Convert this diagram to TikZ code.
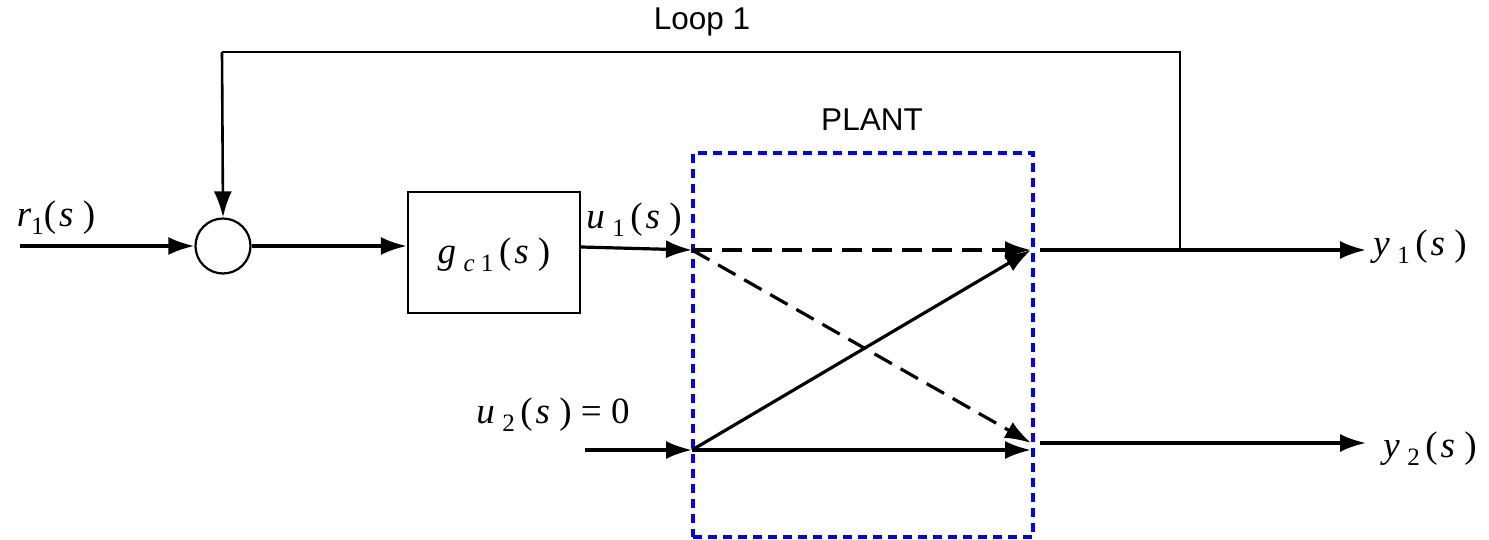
\documentclass[tikz,border=0pt]{standalone}
\usepackage{fontspec}
\setmainfont{Liberation Serif}
\newfontfamily\labelfont{Liberation Sans}
\usetikzlibrary{arrows.meta}
\newcommand{\vsub}[1]{\hspace{0.2em}\raisebox{-0.45ex}{\fontsize{25}{25}\selectfont #1}\hspace{0.15em}}
\newcommand{\ofs}{(\hspace{0.08em}\textit{s}\hspace{0.25em})}
\tikzset{
  sig/.style={line width=3.2pt,-{Latex[length=26pt,width=18pt]}},
  dsig/.style={line width=3.2pt,dash pattern=on 20pt off 10pt,-{Latex[length=26pt,width=18pt]}},
  lbl/.style={font=\fontsize{37}{37}\selectfont},
  sans/.style={font=\labelfont\fontsize{31.5}{31.5}\selectfont},
  blk/.style={draw,line width=2.2pt,minimum width=172pt,minimum height=121pt},
  sumc/.style={draw,circle,line width=2.2pt,minimum size=55pt,inner sep=0pt},
  plantbox/.style={draw=blue,line width=3.2pt,dash pattern=on 9pt off 6pt}
}
\begin{document}
\begin{tikzpicture}[x=1pt,y=-1pt]
\useasboundingbox (0,0) rectangle (1489,540);
% blocks
\node[sumc] (sum) at (223,246) {};
\node[blk] (gc) at (494,252.5) {};
\node[lbl] (gctext) at (494,255) {\textit{g}\vsub{\textit{c}\hspace{0.25em}1}\ofs};
\node[plantbox,minimum width=340pt,minimum height=384pt,inner sep=0pt] (plant) at (863,345) {};
% coordinates
\coordinate (rin) at (20,246);
\coordinate (u1in) at (692,250);
\coordinate (u2start) at (585,450);
\coordinate (u2in) at (692,450);
\coordinate (y1o) at (1031,250);
\coordinate (y2o) at (1031,443);
\coordinate (y1s) at (1040,250);
\coordinate (y2s) at (1040,443);
\coordinate (y1end) at (1366,250);
\coordinate (y2end) at (1366,443);
\coordinate (tap) at (1180,250);
\coordinate (tl) at (222,52);
\coordinate (tr) at (1180,52);
% labels
\node[lbl] (rl) at (56,218) {\textit{r}\raisebox{-0.45ex}{\fontsize{25}{25}\selectfont 1}\ofs};
\node[lbl] (ul) at (634,220) {\textit{u}\vsub{1}\ofs};
\node[lbl] (u2l) at (553,415) {\textit{u}\vsub{2}\ofs\ = 0};
\node[lbl] (y1l) at (1420,247) {\textit{y}\vsub{1}\ofs};
\node[lbl] (y2l) at (1430,449) {\textit{y}\vsub{2}\ofs};
\node[sans] (loop) at (702,22) {Loop 1};
\node[sans] (plantl) at (872,120) {PLANT};
% connectors
\draw[sig] (rin) -- (sum.west);
\draw[sig] (sum.east) -- (gc.west |- sum.east);
\draw[sig] (gc.east |- 0,247) -- (u1in);
\draw[sig] (u2start) -- (u2in);
\draw[dsig] (u1in) -- (y1o);
\draw[dsig] (u1in) -- (y2o);
\draw[sig] (u2in) -- (y1o);
\draw[sig] (u2in) -- (1031,450);
\draw[sig] (y1s) -- (y1end);
\draw[sig] (y2s) -- (y2end);
\draw[line width=2.6pt] (tap) -- (tr) -- (tl);
\draw[line width=2.6pt,-{Latex[length=26pt,width=18pt]}] (tl) -- (sum.north);
\end{tikzpicture}
\end{document}
